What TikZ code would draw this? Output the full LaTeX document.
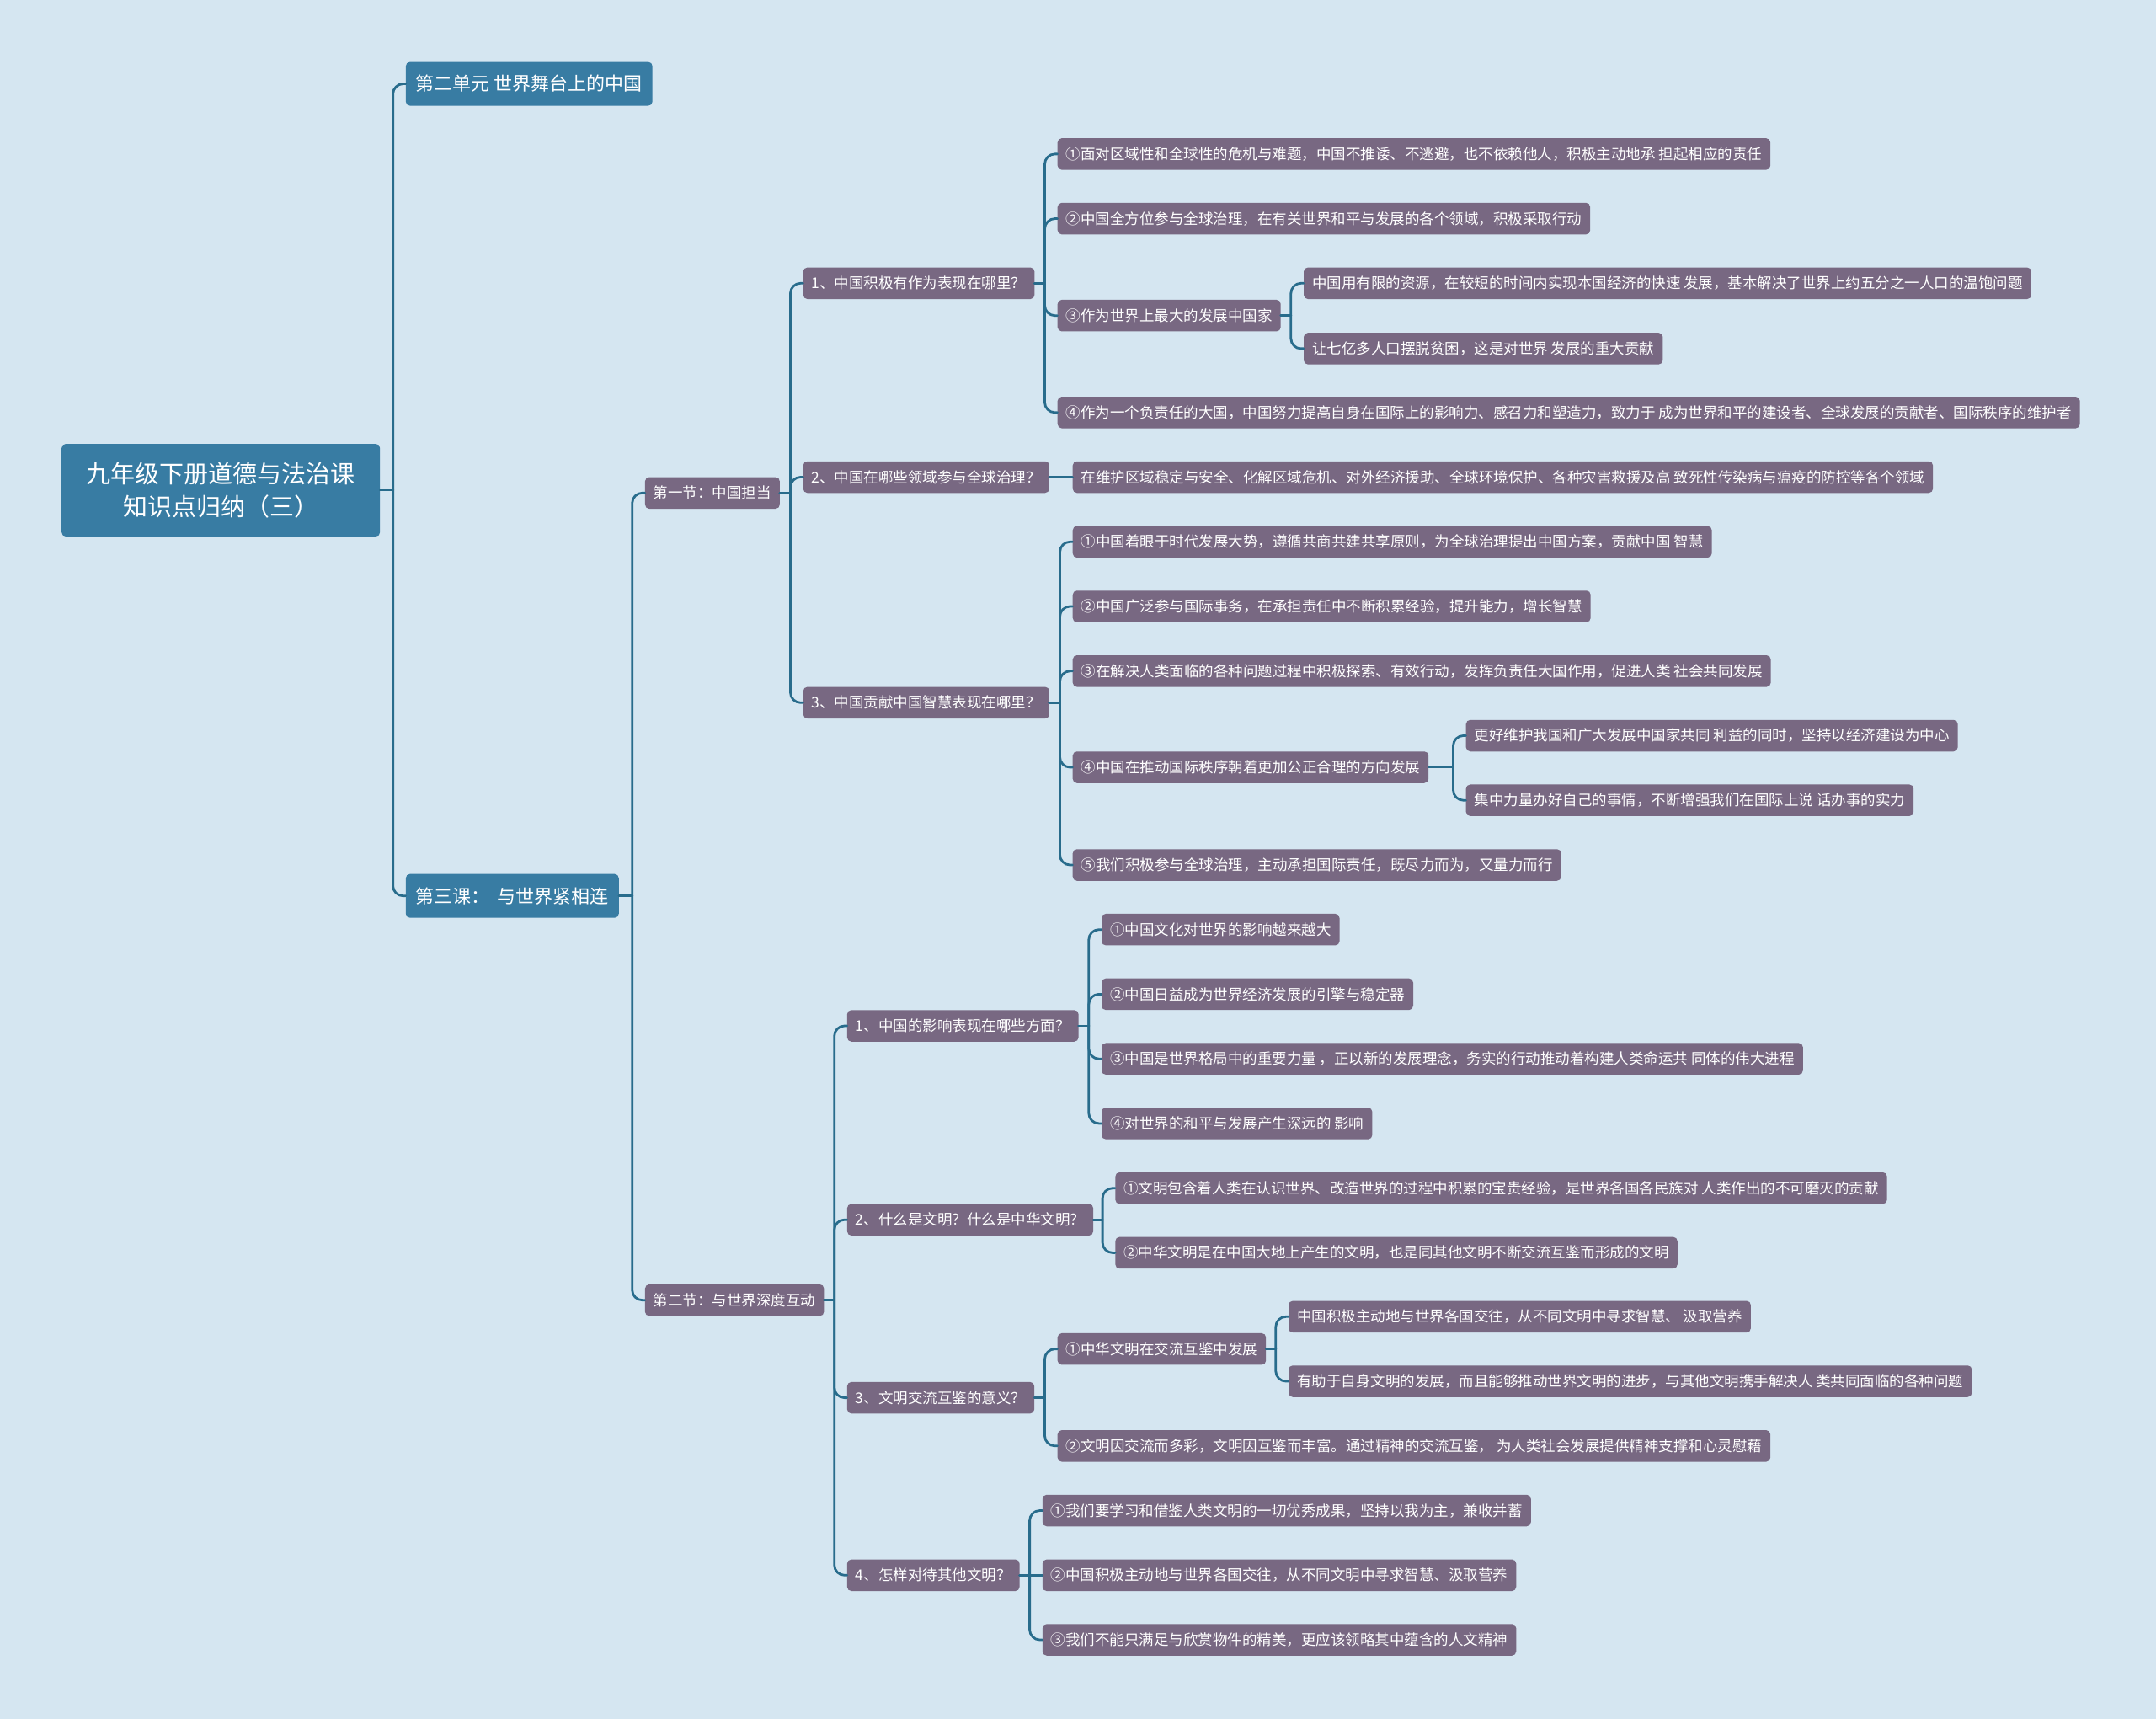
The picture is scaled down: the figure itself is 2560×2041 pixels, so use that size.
\documentclass[tikz,border=0pt]{standalone}
\usepackage{fontspec}
\newfontfamily\cjk{Noto Sans CJK SC}
\usetikzlibrary{calc}
\definecolor{bgc}{RGB}{213,230,241}
\definecolor{purc}{RGB}{120,104,130}
\definecolor{bluc}{RGB}{56,124,163}
\definecolor{linc}{RGB}{40,108,140}
\newcommand\lnk[2]{%
  \draw[conn] (#1.east) -- ($(#1.east -| #2.west)+(-15,0)$);
  \draw[conn,rounded corners=12pt] ($(#1.east -| #2.west)+(-15,0)$) |- (#2.west);}
\newcommand\lnks[2]{\draw[conn] (#1.east) -- (#2.west);}
\begin{document}
\begin{tikzpicture}[x=1pt,y=-1pt,
  conn/.style={draw=linc,line width=2.8pt,line cap=round,line join=round},
  box/.style={anchor=west,text=white,rounded corners=5pt,inner ysep=0pt,inner xsep=10pt,
    font=\cjk\fontsize{17.5}{21}\selectfont,fill=purc,minimum height=37.5pt},
  lvone/.style={box,fill=bluc,inner xsep=12pt,minimum height=52pt,font=\cjk\fontsize{22}{26}\selectfont},
  rootn/.style={box,fill=bluc,minimum width=378pt,minimum height=110pt,align=center,
    font=\cjk\fontsize{29}{39}\selectfont}]
\useasboundingbox (0,0) rectangle (2560,2041);
\fill[bgc] (0,0) rectangle (2560,2041);

% root and level 1
\node[rootn] (root) at (73,582) {九年级下册道德与法治课\\知识点归纳（三）};
\node[lvone] (u2) at (481.6,99.6) {第二单元 世界舞台上的中国};
\node[lvone] (l3) at (481.6,1063.7) {第三课：\hspace{9pt}与世界紧相连};

% level 2
\node[box] (s1) at (765.7,585.3) {第一节：中国担当};
\node[box] (s2) at (765.7,1543.7) {第二节：与世界深度互动};

% section 1
\node[box] (q1) at (953.5,336.3) {1、中国积极有作为表现在哪里？};
\node[box] (q2) at (953.5,566.5) {2、中国在哪些领域参与全球治理？};
\node[box] (q3) at (953.5,834.3) {3、中国贡献中国智慧表现在哪里？};

\node[box] (a1) at (1255.5,182.9) {①面对区域性和全球性的危机与难题，中国不推诿、不逃避，也不依赖他人，积极主动地承 担起相应的责任};
\node[box] (a2) at (1255.5,259.6) {②中国全方位参与全球治理，在有关世界和平与发展的各个领域，积极采取行动};
\node[box] (a3) at (1255.5,374.7) {③作为世界上最大的发展中国家};
\node[box] (a31) at (1547.8,336.3) {中国用有限的资源，在较短的时间内实现本国经济的快速 发展，基本解决了世界上约五分之一人口的温饱问题};
\node[box] (a32) at (1547.8,413.9) {让七亿多人口摆脱贫困，这是对世界 发展的重大贡献};
\node[box] (a4) at (1255.5,489.8) {④作为一个负责任的大国，中国努力提高自身在国际上的影响力、感召力和塑造力，致力于 成为世界和平的建设者、全球发展的贡献者、国际秩序的维护者};

\node[box] (b1) at (1273.5,566.5) {在维护区域稳定与安全、化解区域危机、对外经济援助、全球环境保护、各种灾害救援及高 致死性传染病与瘟疫的防控等各个领域};

\node[box] (c1) at (1273.5,643.3) {①中国着眼于时代发展大势，遵循共商共建共享原则，为全球治理提出中国方案，贡献中国 智慧};
\node[box] (c2) at (1273.5,720.0) {②中国广泛参与国际事务，在承担责任中不断积累经验，提升能力，增长智慧};
\node[box] (c3) at (1273.5,796.8) {③在解决人类面临的各种问题过程中积极探索、有效行动，发挥负责任大国作用，促进人类 社会共同发展};
\node[box] (c4) at (1273.5,911.0) {④中国在推动国际秩序朝着更加公正合理的方向发展};
\node[box] (c41) at (1740.5,873.5) {更好维护我国和广大发展中国家共同 利益的同时，坚持以经济建设为中心};
\node[box] (c42) at (1740.5,950.2) {集中力量办好自己的事情，不断增强我们在国际上说 话办事的实力};
\node[box] (c5) at (1273.5,1027.0) {⑤我们积极参与全球治理，主动承担国际责任，既尽力而为，又量力而行};

% section 2
\node[box] (r1) at (1005.7,1218.0) {1、中国的影响表现在哪些方面？};
\node[box] (r11) at (1307.8,1103.7) {①中国文化对世界的影响越来越大};
\node[box] (r12) at (1307.8,1180.4) {②中国日益成为世界经济发展的引擎与稳定器};
\node[box] (r13) at (1307.8,1257.2) {③中国是世界格局中的重要力量 ，正以新的发展理念，务实的行动推动着构建人类命运共 同体的伟大进程};
\node[box] (r14) at (1307.8,1333.9) {④对世界的和平与发展产生深远的 影响};

\node[box] (r2) at (1005.7,1448.2) {2、什么是文明？什么是中华文明？};
\node[box] (r21) at (1324.1,1410.7) {①文明包含着人类在认识世界、改造世界的过程中积累的宝贵经验，是世界各国各民族对 人类作出的不可磨灭的贡献};
\node[box] (r22) at (1324.1,1487.4) {②中华文明是在中国大地上产生的文明，也是同其他文明不断交流互鉴而形成的文明};

\node[box] (r3) at (1005.7,1659.6) {3、文明交流互鉴的意义？};
\node[box] (e1) at (1255.5,1601.7) {①中华文明在交流互鉴中发展};
\node[box] (e11) at (1529.8,1563.3) {中国积极主动地与世界各国交往，从不同文明中寻求智慧、 汲取营养};
\node[box] (e12) at (1529.8,1640.0) {有助于自身文明的发展，而且能够推动世界文明的进步，与其他文明携手解决人 类共同面临的各种问题};
\node[box] (e2) at (1255.5,1716.8) {②文明因交流而多彩，文明因互鉴而丰富。通过精神的交流互鉴， 为人类社会发展提供精神支撑和心灵慰藉};

\node[box] (r4) at (1005.7,1870.3) {4、怎样对待其他文明？};
\node[box] (f1) at (1237.6,1793.5) {①我们要学习和借鉴人类文明的一切优秀成果，坚持以我为主，兼收并蓄};
\node[box] (f2) at (1237.6,1870.3) {②中国积极主动地与世界各国交往，从不同文明中寻求智慧、汲取营养};
\node[box] (f3) at (1237.6,1947.0) {③我们不能只满足与欣赏物件的精美，更应该领略其中蕴含的人文精神};

% connectors
\lnk{root}{u2}\lnk{root}{l3}
\lnk{l3}{s1}\lnk{l3}{s2}
\lnk{s1}{q1}\lnk{s1}{q2}\lnk{s1}{q3}
\lnk{q1}{a1}\lnk{q1}{a2}\lnk{q1}{a3}\lnk{q1}{a4}
\lnk{a3}{a31}\lnk{a3}{a32}
\lnks{q2}{b1}
\lnk{q3}{c1}\lnk{q3}{c2}\lnk{q3}{c3}\lnk{q3}{c4}\lnk{q3}{c5}
\lnk{c4}{c41}\lnk{c4}{c42}
\lnk{s2}{r1}\lnk{s2}{r2}\lnk{s2}{r3}\lnk{s2}{r4}
\lnk{r1}{r11}\lnk{r1}{r12}\lnk{r1}{r13}\lnk{r1}{r14}
\lnk{r2}{r21}\lnk{r2}{r22}
\lnk{r3}{e1}\lnk{r3}{e2}
\lnk{e1}{e11}\lnk{e1}{e12}
\lnk{r4}{f1}\lnks{r4}{f2}\lnk{r4}{f3}
\end{tikzpicture}
\end{document}
